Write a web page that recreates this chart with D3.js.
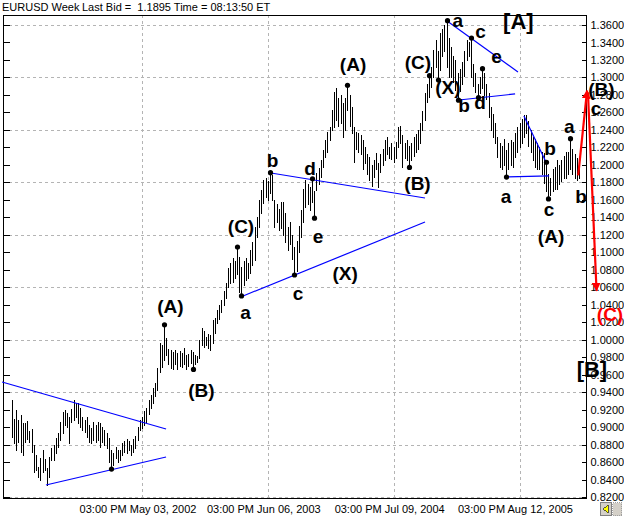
<!DOCTYPE html>
<html lang="en">
<head>
<meta charset="UTF-8"/>
<title>EURUSD Week</title>
<script src="https://d3js.org/d3.v7.min.js"></script>
<style>
  body { margin: 0; background: #fff; }
  svg text { font-family: "Liberation Sans", Arial, sans-serif; }
</style>
</head>
<body>
<script>

var w = 624;
var h = 518;
var plotLeft = 3, plotRight = 586, plotTop = 15, plotBottom = 498;

// week 0 = Fri 03 May 2002, bars are weekly, first bar is week -59 (16 Mar 2001)
var baseDay = Date.UTC(2002, 4, 3);
var firstBar = -59;

// weekly highs / lows
var highs = [
  // Mar 2001 - May 2002
  0.931,0.909,0.920,0.908,0.914,0.905,0.905,0.907,0.896,0.898,
  0.879,0.868,0.854,0.865,0.874,0.864,0.853,0.866,0.876,0.879,
  0.887,0.893,0.906,0.917,0.920,0.916,0.912,0.921,0.931,0.927,
  0.927,0.922,0.912,0.908,0.912,0.902,0.899,0.906,0.902,0.906,
  0.905,0.900,0.897,0.893,0.887,0.874,0.870,0.877,0.874,0.874,
  0.882,0.884,0.886,0.884,0.880,0.886,0.890,0.900,0.908,0.912,
  // May 2002 - Jun 2003
  0.918,0.922,0.931,0.937,0.945,0.950,0.968,0.996,0.994,1.017,
  1.002,0.989,0.988,0.986,0.988,0.985,0.987,0.985,0.990,0.983,
  0.984,0.988,0.986,0.982,0.981,1.000,1.013,1.010,1.003,1.006,
  1.005,1.022,1.025,1.034,1.040,1.045,1.056,1.065,1.082,1.088,
  1.093,1.090,1.106,1.095,1.083,1.090,1.094,1.088,1.103,1.112,
  1.129,1.140,1.160,1.171,1.183,1.185,1.182,
  // Jun 2003 - Nov 2004
  1.191,1.188,1.160,1.155,1.150,1.158,1.157,1.145,1.129,1.135,
  1.120,1.106,1.113,1.130,1.148,1.172,1.183,1.178,1.175,1.184,
  1.170,1.191,1.196,1.205,1.217,1.228,1.238,1.243,1.263,1.283,
  1.288,1.276,1.280,1.271,1.276,1.291,1.280,1.266,1.243,1.238,
  1.236,1.234,1.228,1.220,1.212,1.209,1.200,1.205,1.214,1.202,
  1.212,1.218,1.228,1.232,1.220,1.225,1.220,1.226,1.243,1.245,
  1.234,1.225,1.228,1.222,1.225,1.232,1.235,1.240,1.248,1.262,
  1.282,1.292,1.302,
  // Nov 2004 - Feb 2006
  1.312,1.331,1.343,1.330,1.351,1.355,1.360,1.365,1.345,1.335,
  1.325,1.320,1.305,1.310,1.318,1.330,1.343,1.340,1.345,1.315,
  1.305,1.293,1.300,1.310,1.305,1.293,1.282,1.266,1.258,1.248,
  1.232,1.225,1.222,1.230,1.217,1.225,1.228,1.226,1.236,1.243,
  1.248,1.252,1.257,1.257,1.250,1.240,1.232,1.230,1.225,1.220,
  1.215,1.213,1.205,1.190,1.185,1.195,1.198,1.205,1.200,1.205,
  1.210,1.215,1.215,1.230,1.218,1.212,1.208,1.198
];

var lows = [
  0.889,0.882,0.874,0.883,0.871,0.868,0.883,0.886,0.883,0.871,
  0.849,0.851,0.843,0.839,0.849,0.851,0.834,0.843,0.862,0.862,
  0.870,0.877,0.885,0.893,0.902,0.900,0.882,0.906,0.908,0.912,
  0.905,0.900,0.897,0.894,0.889,0.883,0.882,0.885,0.883,0.885,
  0.877,0.883,0.879,0.876,0.860,0.852,0.857,0.865,0.860,0.862,
  0.868,0.872,0.870,0.874,0.868,0.872,0.876,0.885,0.897,0.899,

  0.902,0.906,0.915,0.922,0.928,0.935,0.942,0.963,0.969,0.977,
  0.982,0.972,0.968,0.967,0.972,0.967,0.970,0.969,0.972,0.967,
  0.970,0.973,0.966,0.972,0.975,0.979,0.994,0.992,0.994,0.991,
  0.988,0.996,1.008,1.019,1.024,1.032,1.040,1.048,1.060,1.065,
  1.066,1.070,1.075,1.055,1.050,1.062,1.068,1.070,1.076,1.085,
  1.091,1.117,1.129,1.145,1.156,1.163,1.160,

  1.168,1.160,1.129,1.135,1.125,1.128,1.120,1.112,1.103,1.110,
  1.092,1.074,1.078,1.100,1.117,1.135,1.152,1.155,1.148,1.158,
  1.139,1.171,1.178,1.186,1.198,1.209,1.215,1.228,1.240,1.243,
  1.251,1.245,1.248,1.232,1.240,1.263,1.245,1.236,1.203,1.218,
  1.215,1.212,1.195,1.202,1.190,1.183,1.176,1.186,1.195,1.175,
  1.192,1.200,1.206,1.212,1.208,1.207,1.203,1.208,1.220,1.225,
  1.198,1.208,1.205,1.197,1.205,1.210,1.215,1.218,1.225,1.240,
  1.251,1.272,1.278,

  1.289,1.301,1.312,1.297,1.309,1.325,1.330,1.312,1.300,1.301,
  1.295,1.286,1.274,1.285,1.292,1.302,1.320,1.325,1.300,1.290,
  1.283,1.277,1.282,1.288,1.280,1.275,1.255,1.240,1.232,1.225,
  1.209,1.198,1.195,1.200,1.186,1.195,1.200,1.198,1.209,1.215,
  1.220,1.225,1.232,1.236,1.222,1.215,1.205,1.198,1.195,1.195,
  1.190,1.179,1.170,1.161,1.165,1.170,1.172,1.172,1.178,1.182,
  1.185,1.185,1.190,1.195,1.190,1.185,1.183,1.185
];

var dateTicks = [Date.UTC(2002, 4, 3), Date.UTC(2003, 5, 6), Date.UTC(2004, 6, 9), Date.UTC(2005, 7, 12)];
var dateLabels = ["03:00 PM May 03, 2002", "03:00 PM Jun 06, 2003", "03:00 PM Jul 09, 2004", "03:00 PM Aug 12, 2005"];

var priceTicks = [0.82,0.84,0.86,0.88,0.90,0.92,0.94,0.96,0.98,1.00,1.02,1.04,1.06,1.08,
                  1.10,1.12,1.14,1.16,1.18,1.20,1.22,1.24,1.26,1.28,1.30,1.32,1.34,1.36];
var gridPrices = [0.82,0.88,0.94,1.00,1.06,1.12,1.18,1.24,1.30,1.36];

// wave pivots [week, price]
var pivots = [
  [-14,0.852],[10,1.017],[23,0.966],[43,1.106],[45,1.050],[58,1.191],[69,1.074],
  [77,1.184],[78,1.139],[93,1.291],[121,1.197],[130,1.302],[134,1.297],[138,1.365],
  [143,1.274],[149,1.345],[152,1.277],[154,1.310],[165,1.186],[183,1.203],[184,1.161],[194,1.230]
];

// blue trend lines [week1, price1, week2, price2]
var trendLines = [
  [-63.4,0.9516,10.9,0.8978],
  [-43.5,0.8337,10.9,0.8658],
  [58.4,1.1907,128.2,1.1621],
  [45.8,1.0500,128.2,1.1346],
  [138.2,1.3646,170.3,1.3063],
  [143.6,1.2742,169.0,1.2811],
  [173.0,1.2559,183.0,1.2033],
  [164.9,1.1861,184.4,1.1873]
];

// red projection arrows
var arrows = [
  [197.6,1.1880,201.6,1.2850],
  [202.0,1.2830,205.9,1.0560]
];

// wave labels [text, week, price, kind]
var waveLabels = [
  ["(A)",12.9,1.0305,"s"],["(B)",26.95,0.9344,"s"],["(C)",44.85,1.1221,"s"],
  ["a",46.9,1.0237,"s"],["b",59.1,1.1981,"s"],["c",70.7,1.0454,"s"],
  ["d",76.1,1.1884,"s"],["e",79.7,1.1106,"s"],["(X)",92.0,1.0683,"s"],
  ["(A)",95.6,1.3074,"s"],["(B)",124.8,1.1713,"s"],["(C)",125.0,1.3097,"s"],
  ["(X)",138.6,1.2811,"s"],["a",143.1,1.3577,"s"],["c",153.3,1.3452,"s"],
  ["[A]",170.5,1.3555,"b"],["b",145.9,1.2600,"s"],["d",153.1,1.2635,"s"],
  ["e",160.6,1.3168,"s"],["a",164.9,1.1564,"s"],["b",184.8,1.2113,"s"],
  ["c",184.4,1.1418,"s"],["(A)",185.3,1.1106,"s"],["a",193.6,1.2365,"s"],
  ["b",198.9,1.1564,"s"],["(B)",208.1,1.2788,"s"],["c",205.7,1.2571,"s"],
  ["(C)",212.0,1.0214,"r"],["[B]",203.8,0.9573,"b"]
];

function wk(n) { return new Date(baseDay + n * 7 * 864e5); }

var x = d3.scaleUtc()
    .domain([wk(0), wk(171)])
    .range([142, 519.5]);

var y = d3.scaleLinear()
    .domain([0.82, 1.36])
    .range([497, 25]);

var svg = d3.select("body")
    .append("svg")
    .attr("width", w)
    .attr("height", h)
    .style("display", "block");

svg.append("rect").attr("width", w).attr("height", h).attr("fill", "#fff");

// title
svg.append("text").attr("x", 2).attr("y", 11).attr("font-size", "11px").text("EURUSD Week");
svg.append("text").attr("x", 82).attr("y", 11).attr("font-size", "11px")
    .style("white-space", "pre").text("Last Bid =  1.1895 Time = 08:13:50 ET");

// grid
var grid = svg.append("g").attr("stroke", "#b4b4b4").attr("stroke-dasharray", "3,3")
    .attr("shape-rendering", "crispEdges");
grid.selectAll("line.h").data(gridPrices).enter().append("line")
    .attr("x1", plotLeft).attr("x2", plotRight)
    .attr("y1", function(d) { return Math.round(y(d)) + 0.5; })
    .attr("y2", function(d) { return Math.round(y(d)) + 0.5; });
grid.selectAll("line.v").data(dateTicks).enter().append("line")
    .attr("x1", function(d) { return Math.round(x(d)) + 0.5; })
    .attr("x2", function(d) { return Math.round(x(d)) + 0.5; })
    .attr("y1", plotTop).attr("y2", plotBottom);

// frame
var frame = svg.append("g").attr("stroke", "#000").attr("shape-rendering", "crispEdges");
frame.append("line").attr("x1", plotLeft + 0.5).attr("x2", plotLeft + 0.5).attr("y1", plotTop).attr("y2", plotBottom + 1);
frame.append("line").attr("x1", plotRight + 0.5).attr("x2", plotRight + 0.5).attr("y1", plotTop).attr("y2", plotBottom + 1);
frame.append("line").attr("x1", plotLeft).attr("x2", plotRight + 1).attr("y1", plotTop + 0.5).attr("y2", plotTop + 0.5);
frame.append("line").attr("x1", plotLeft).attr("x2", plotRight + 1).attr("y1", plotBottom + 0.5).attr("y2", plotBottom + 0.5);

// right price axis
var rightAxis = svg.append("g")
    .attr("transform", "translate(" + (plotRight + 0.5) + ",0)")
    .call(d3.axisRight(y).tickValues(priceTicks).tickSizeInner(-5).tickSizeOuter(0)
        .tickPadding(4).tickFormat(d3.format(".4f")));
rightAxis.select(".domain").remove();
rightAxis.selectAll("text").attr("font-size", "11px").attr("fill", "#000")
    .attr("font-family", "'Liberation Sans', Arial, sans-serif");
rightAxis.selectAll("line").attr("shape-rendering", "crispEdges");

// left axis ticks only
var leftAxis = svg.append("g")
    .attr("transform", "translate(" + (plotLeft + 0.5) + ",0)")
    .call(d3.axisRight(y).tickValues(priceTicks).tickSizeInner(6).tickSizeOuter(0).tickFormat(""));
leftAxis.select(".domain").remove();
leftAxis.selectAll("line").attr("shape-rendering", "crispEdges");

// date labels
svg.selectAll("text.date").data(dateTicks).enter().append("text")
    .attr("class", "date")
    .attr("x", function(d) { return x(d) - 4; })
    .attr("y", 513)
    .attr("text-anchor", "middle")
    .attr("font-size", "11px")
    .text(function(d, i) { return dateLabels[i]; });

// weekly high-low bars
var bars = highs.map(function(hi, i) {
  return { date: wk(firstBar + i), hi: hi, lo: lows[i] };
});
svg.append("g").attr("stroke", "#000").attr("shape-rendering", "crispEdges")
  .selectAll("line").data(bars).enter().append("line")
    .attr("x1", function(d) { return Math.round(x(d.date)) + 0.5; })
    .attr("x2", function(d) { return Math.round(x(d.date)) + 0.5; })
    .attr("y1", function(d) { return y(d.hi); })
    .attr("y2", function(d) { return y(d.lo) + 1; });

// trend lines
svg.append("g").attr("stroke", "#0000ff").attr("stroke-width", 1.2)
  .selectAll("line").data(trendLines).enter().append("line")
    .attr("x1", function(d) { return x(wk(d[0])); })
    .attr("y1", function(d) { return y(d[1]); })
    .attr("x2", function(d) { return x(wk(d[2])); })
    .attr("y2", function(d) { return y(d[3]); });

// pivot dots
svg.append("g").selectAll("circle").data(pivots).enter().append("circle")
    .attr("cx", function(d) { return Math.round(x(wk(d[0]))) + 0.5; })
    .attr("cy", function(d) { return y(d[1]); })
    .attr("r", 2.6)
    .attr("fill", "#000");

// red arrows
var defs = svg.append("defs");
defs.append("marker").attr("id", "redhead")
    .attr("viewBox", "0 0 10 10").attr("refX", 9).attr("refY", 5)
    .attr("markerWidth", 4).attr("markerHeight", 4).attr("orient", "auto")
  .append("path").attr("d", "M0,0L10,5L0,10z").attr("fill", "#ff0000");
svg.append("g").selectAll("line").data(arrows).enter().append("line")
    .attr("x1", function(d) { return x(wk(d[0])); })
    .attr("y1", function(d) { return y(d[1]); })
    .attr("x2", function(d) { return x(wk(d[2])); })
    .attr("y2", function(d) { return y(d[3]); })
    .attr("stroke", "#ff0000").attr("stroke-width", 2.2)
    .attr("marker-end", "url(#redhead)");

// wave labels
svg.append("g").selectAll("text").data(waveLabels).enter().append("text")
    .attr("x", function(d) { return x(wk(d[1])); })
    .attr("y", function(d) { return y(d[2]); })
    .attr("text-anchor", "middle")
    .attr("font-weight", "bold")
    .attr("font-size", function(d) { return d[3] == "b" ? "22px" : "19px"; })
    .attr("fill", function(d) { return d[3] == "r" ? "#ff0000" : "#000"; })
    .text(function(d) { return d[0]; });

// scroll buttons bottom right
var btn = svg.append("g").attr("shape-rendering", "crispEdges");
btn.append("rect").attr("x", 600.5).attr("y", 502.5).attr("width", 11).attr("height", 13)
    .attr("fill", "#d4d0c8").attr("stroke", "#808080");
btn.append("path").attr("d", "M603,509L608,505L608,513z").attr("fill", "#ffff00").attr("stroke", "#000").attr("stroke-width", 0.6);
btn.append("rect").attr("x", 612.5).attr("y", 502.5).attr("width", 9).attr("height", 13)
    .attr("fill", "#d4d0c8").attr("stroke", "#a0a0a0").attr("stroke-dasharray", "1,1");

</script>
</body>
</html>
